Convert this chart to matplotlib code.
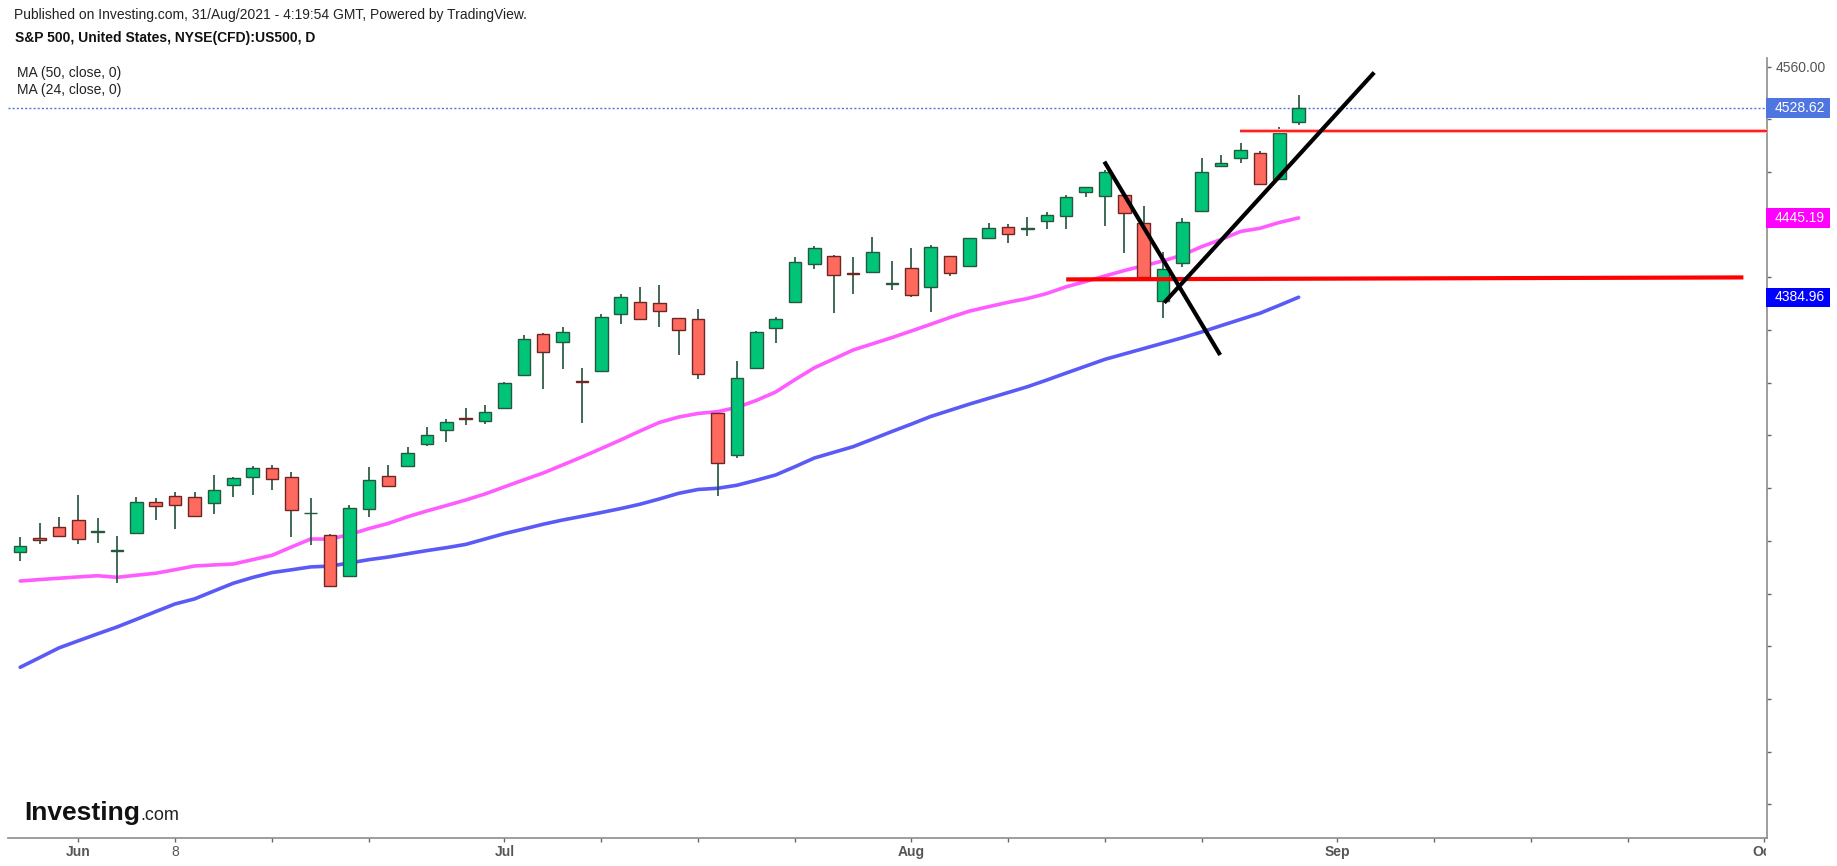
import matplotlib
matplotlib.use('Agg')
import matplotlib.pyplot as plt
import matplotlib.transforms as mtransforms
from matplotlib.patches import Rectangle
import numpy as np

plt.rcParams['font.family'] = ['Liberation Sans', 'DejaVu Sans']

# ---------------- data ----------------
opens = [4191.2, 4201.8, 4210.3, 4216.1, 4207.0, 4192.0, 4205.8, 4229.3, 4234.1, 4233.1,
         4228.5, 4242.7, 4248.3, 4255.1, 4248.5, 4220.8, 4204.7, 4173.6, 4224.4, 4249.3,
         4256.9, 4273.8, 4284.4, 4293.3, 4291.0, 4300.7, 4326.2, 4356.8, 4350.8, 4321.6,
         4329.0, 4372.5, 4381.1, 4380.4, 4369.0, 4368.2, 4296.9, 4265.2, 4331.0, 4361.4,
         4381.1, 4410.0, 4416.5, 4403.0, 4403.9, 4395.3, 4406.9, 4392.5, 4416.3, 4408.9,
         4429.7, 4438.5, 4436.5, 4442.9, 4446.6, 4464.6, 4461.8, 4462.6, 4441.1, 4382.1,
         4410.7, 4450.7, 4484.6, 4490.5, 4494.3, 4474.5, 4518.0]
highs = [4202.7, 4213.3, 4218.1, 4234.6, 4217.2, 4204.0, 4233.6, 4232.6, 4237.3, 4237.0,
         4249.8, 4248.7, 4256.9, 4257.4, 4252.3, 4232.3, 4205.5, 4227.0, 4256.3, 4257.4,
         4271.5, 4286.7, 4292.3, 4300.9, 4302.9, 4320.9, 4356.1, 4357.6, 4362.6, 4331.0,
         4372.0, 4387.4, 4393.0, 4394.0, 4369.3, 4375.8, 4297.2, 4336.8, 4359.6, 4370.2,
         4415.7, 4423.9, 4416.8, 4415.7, 4430.9, 4412.7, 4422.1, 4424.6, 4416.6, 4430.3,
         4441.1, 4440.6, 4446.1, 4449.9, 4462.6, 4469.0, 4481.6, 4463.0, 4454.5, 4419.6,
         4444.9, 4490.5, 4493.2, 4501.8, 4496.2, 4514.0, 4538.3]
lows = [4184.5, 4197.7, 4203.5, 4197.7, 4198.6, 4168.3, 4205.5, 4215.9, 4209.3, 4218.5,
        4220.4, 4233.1, 4234.8, 4238.6, 4202.7, 4196.9, 4164.8, 4172.4, 4217.9, 4241.3,
        4256.5, 4272.0, 4275.3, 4287.8, 4288.7, 4300.5, 4326.0, 4315.5, 4330.7, 4289.7,
        4328.8, 4364.9, 4367.7, 4362.6, 4340.9, 4322.9, 4234.1, 4262.7, 4330.8, 4350.5,
        4381.0, 4406.4, 4373.2, 4387.4, 4403.7, 4390.5, 4385.4, 4373.5, 4401.1, 4408.7,
        4429.5, 4425.9, 4431.5, 4436.8, 4436.8, 4461.3, 4439.1, 4418.8, 4398.1, 4369.0,
        4407.7, 4450.5, 4483.6, 4486.7, 4470.5, 4474.3, 4515.7]
closes = [4196.0, 4200.9, 4203.7, 4201.7, 4207.6, 4192.6, 4229.3, 4226.3, 4227.5, 4218.9,
          4238.9, 4247.5, 4255.1, 4246.8, 4223.5, 4221.4, 4165.8, 4224.7, 4246.5, 4241.7,
          4266.5, 4280.6, 4290.0, 4292.6, 4297.6, 4319.6, 4353.0, 4343.2, 4358.6, 4320.9,
          4370.0, 4385.2, 4368.7, 4374.3, 4360.1, 4326.9, 4258.9, 4323.4, 4358.4, 4368.2,
          4411.5, 4422.1, 4401.9, 4402.3, 4419.1, 4395.9, 4386.7, 4422.9, 4403.2, 4429.7,
          4437.3, 4432.8, 4437.1, 4447.6, 4460.8, 4468.4, 4480.1, 4448.7, 4400.1, 4406.2,
          4441.9, 4479.8, 4486.7, 4497.0, 4470.7, 4509.4, 4528.62]
ma24 = [4169.5, 4170.6, 4171.6, 4172.6, 4173.5, 4172.3, 4173.9, 4175.4, 4178.1, 4180.9,
        4181.7, 4182.4, 4185.7, 4189.0, 4195.3, 4201.4, 4201.3, 4204.8, 4209.3, 4213.2,
        4218.3, 4222.7, 4226.8, 4231.0, 4235.6, 4241.0, 4246.3, 4251.5, 4257.6, 4263.7,
        4270.1, 4276.6, 4283.4, 4289.9, 4294.0, 4296.7, 4298.1, 4301.3, 4306.6, 4313.0,
        4322.4, 4331.4, 4338.1, 4344.9, 4349.6, 4354.3, 4359.3, 4364.4, 4369.6, 4374.4,
        4377.8, 4381.1, 4384.0, 4387.8, 4392.9, 4396.9, 4401.1, 4405.2, 4408.9, 4412.5,
        4417.0, 4423.4, 4428.8, 4434.9, 4437.3, 4441.7, 4445.19]
ma50 = [4104.0, 4111.3, 4118.7, 4124.1, 4129.4, 4134.6, 4140.4, 4146.3, 4152.1, 4155.9,
        4161.9, 4167.8, 4172.2, 4175.9, 4178.0, 4180.2, 4180.8, 4183.2, 4185.7, 4187.7,
        4190.2, 4192.6, 4194.8, 4197.3, 4201.4, 4205.5, 4209.0, 4212.6, 4215.8, 4218.6,
        4221.5, 4224.5, 4227.8, 4231.8, 4236.1, 4239.0, 4239.9, 4242.2, 4246.0, 4250.0,
        4256.3, 4262.9, 4267.2, 4271.5, 4277.2, 4283.0, 4288.6, 4294.4, 4299.1, 4303.8,
        4308.2, 4312.6, 4317.0, 4322.1, 4327.4, 4332.6, 4337.8, 4341.9, 4346.0, 4350.1,
        4354.2, 4358.6, 4363.4, 4368.1, 4372.8, 4378.8, 4384.96]

last_price = 4528.62
ma24_last = 4445.19
ma50_last = 4384.96

# hand-drawn annotations (bar index, price)
trend_down_x = [55.97, 61.95]
trend_down_y = [4487.9, 4341.1]
trend_up_x = [59.06, 69.9]
trend_up_y = [4380.8, 4555.6]
support_x = [54.0, 88.96]
support_y = [4398.5, 4400.0]
resist_x = [62.95, 90.18]
resist_y = [4511.2, 4511.2]

xtick_pos = [3, 8, 13, 18, 25, 30, 35, 40, 46, 51, 56, 61, 68, 73, 78, 83, 90]
xtick_labels = ['Jun', '8', '', '', 'Jul', '', '', '', 'Aug', '', '', '', 'Sep', '', '', '', 'Oct']
month_labels = {'Jun', 'Jul', 'Aug', 'Sep', 'Oct'}
ytick_vals = list(range(4000, 4561, 40))

# ---------------- figure ----------------
W, H = 1837, 866
fig = plt.figure(figsize=(W / 100, H / 100), dpi=100)
fig.patch.set_facecolor('white')
ax_l, ax_r, ax_t, ax_b = 8, 1767, 58, 837.7
ax = fig.add_axes([ax_l / W, (H - ax_b) / H, (ax_r - ax_l) / W, (ax_b - ax_t) / H])
ax.set_facecolor('white')
ax.set_xlim(-0.63, 90.18)
ax.set_ylim(3974.6, 4566.6)

GREEN = '#00c578'
GREEN_EDGE = '#24583f'
RED = '#ff6a5f'
RED_EDGE = '#6e2523'
WICK = '#20503a'

x = np.arange(len(closes))
o = np.array(opens)
c = np.array(closes)
up = c >= o
body_bottom = np.minimum(o, c)
body_h = np.maximum(np.abs(c - o), 0.7)

# moving averages
ax.plot(x, ma50, color='#5a5af6', lw=2.6, zorder=2, solid_capstyle='round')
ax.plot(x, ma24, color='#ff5cff', lw=2.6, zorder=2, solid_capstyle='round')

# candles
ax.vlines(x, lows, highs, color=WICK, lw=1.2, zorder=3)
ax.bar(x[up], body_h[up], bottom=body_bottom[up], width=0.65, color=GREEN,
       edgecolor=GREEN_EDGE, linewidth=1.0, zorder=4)
ax.bar(x[~up], body_h[~up], bottom=body_bottom[~up], width=0.65, color=RED,
       edgecolor=RED_EDGE, linewidth=1.0, zorder=4)

# last price dotted line
ax.axhline(last_price, color='#4f76e0', lw=1.0, ls=(0, (1.5, 1.5)), zorder=1)

# drawings
ax.plot(resist_x, resist_y, color='#ffb0b0', lw=3.0, zorder=5, solid_capstyle='butt')
ax.plot(resist_x, resist_y, color='#ff1010', lw=1.3, zorder=6, solid_capstyle='butt')
ax.plot(support_x, support_y, color='#ff0000', lw=3.0, zorder=6, solid_capstyle='butt')
ax.plot(trend_down_x, trend_down_y, color='black', lw=3.0, zorder=7, solid_capstyle='butt')
ax.plot(trend_up_x, trend_up_y, color='black', lw=3.0, zorder=7, solid_capstyle='butt')

# spines
for s in ['top', 'left']:
    ax.spines[s].set_visible(False)
for s in ['bottom', 'right']:
    ax.spines[s].set_color('#8c8c8c')
    ax.spines[s].set_linewidth(1.2)

# y axis on the right
ax.yaxis.tick_right()
ax.set_yticks(ytick_vals)
ax.set_yticklabels(['4560.00' if v == 4560 else '' for v in ytick_vals])
ax.tick_params(axis='y', direction='out', length=3, width=1, color='#666666',
               labelcolor='#555555', labelsize=10, pad=3)

# x axis
ax.set_xticks(xtick_pos)
ax.set_xticklabels(xtick_labels)
ax.tick_params(axis='x', direction='out', length=3, width=1, color='#666666',
               labelcolor='#555555', labelsize=10, pad=2)
clip_bb = mtransforms.TransformedBbox(mtransforms.Bbox.from_extents(0, 0, 1766 / W, 1),
                                      fig.transFigure)
for lbl in ax.get_xticklabels():
    if lbl.get_text() in month_labels:
        lbl.set_fontweight('bold')
    lbl.set_clip_on(True)
    lbl.set_clip_box(clip_bb)

# right-side value boxes
blend = mtransforms.blended_transform_factory(ax.transAxes, ax.transData)
ax_w = ax_r - ax_l
box_x0 = (1766 - ax_l) / ax_w
box_w = (1830 - 1766) / ax_w
box_h = 19.4 / ((ax_b - ax_t) / (4566.6 - 3974.6))
txt_x = (1775 - ax_l) / ax_w
for val, col in [(last_price, '#4f76e0'), (ma24_last, '#ff00ff'), (ma50_last, '#0000ff')]:
    ax.add_patch(Rectangle((box_x0, val - box_h / 2), box_w, box_h, transform=blend,
                           facecolor=col, edgecolor='none', clip_on=False, zorder=10))
    ax.text(txt_x, val, f'{val:.2f}', transform=blend, color='white', fontsize=10,
            va='center', ha='left', clip_on=False, zorder=11)

# header / legend texts
def px(xp, yp):
    return xp / W, 1 - yp / H

fig.text(*px(14, 15), 'Published on Investing.com, 31/Aug/2021 - 4:19:54 GMT, Powered by TradingView.',
         fontsize=10, color='#222222', va='center', ha='left')
fig.text(*px(15, 38), 'S&P 500, United States, NYSE(CFD):US500, D',
         fontsize=10, fontweight='bold', color='#111111', va='center', ha='left')
fig.text(*px(17, 73), 'MA (50, close, 0)', fontsize=10, color='#222222', va='center', ha='left')
fig.text(*px(17, 90), 'MA (24, close, 0)', fontsize=10, color='#222222', va='center', ha='left')

# watermark
t_inv = fig.text(*px(24, 820), 'Investing', fontsize=19, fontweight='bold', color='#111111',
                 va='baseline', ha='left')
fig.canvas.draw()
bb = t_inv.get_window_extent(renderer=fig.canvas.get_renderer())
fig.text((bb.x1 + 1) / W, 1 - 820 / H, '.com', fontsize=13, color='#222222',
         va='baseline', ha='left')

fig.savefig('out.png', dpi=100, facecolor='white')
